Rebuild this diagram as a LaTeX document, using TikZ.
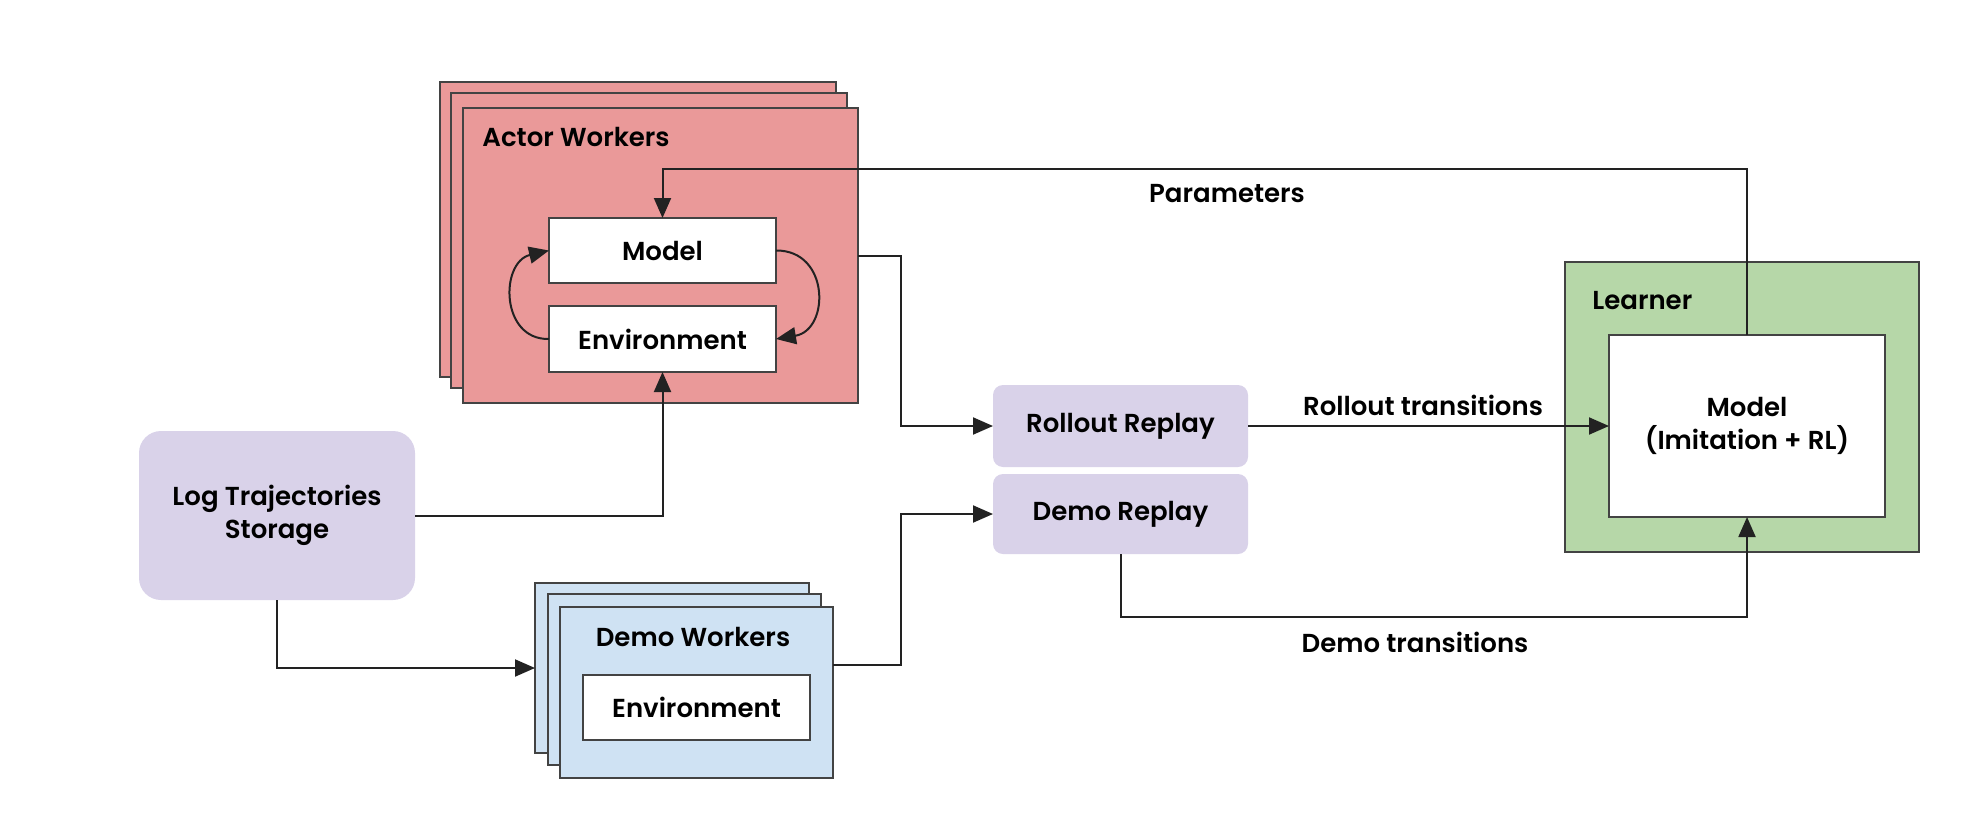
\documentclass[tikz,border=0pt]{standalone}
\usepackage{fontspec}
\setmainfont{Poppins}[UprightFont=* SemiBold, BoldFont=* Bold]
\usetikzlibrary{arrows.meta,calc}
\definecolor{redf}{HTML}{EA9999}
\definecolor{greenf}{HTML}{B6D7A8}
\definecolor{lavf}{HTML}{D9D2E9}
\definecolor{bluef}{HTML}{CFE2F3}
\definecolor{bord}{HTML}{434343}
\definecolor{linec}{HTML}{222222}
\begin{document}
\begin{tikzpicture}[x={(0.5pt,0)},y={(0,-0.5pt)},
  every node/.style={font=\fontsize{13pt}{16.2pt}\selectfont, text=black},
  card/.style={draw=bord, line width=1.1pt, inner sep=0pt, outer sep=0pt},
  whitebox/.style={card, fill=white},
  soft/.style={fill=lavf, draw=none, inner sep=0pt, outer sep=0pt, align=center},
  conn/.style={draw=linec, line width=1pt, -{Triangle[length=10pt,width=8.5pt]}},
  lbl/.style={inner sep=0pt}
]
\useasboundingbox (0,0) rectangle (1974,830);
% Actor workers stack
\node[card, fill=redf, minimum width=198pt, minimum height=147.5pt] (actb1) at (638,229.5) {};
\node[card, fill=redf, minimum width=198pt, minimum height=147.5pt] (actb2) at (649,240.5) {};
\node[card, fill=redf, minimum width=197.5pt, minimum height=147.5pt] (actf) at (660.5,255.5) {};
\node[lbl, anchor=west] (acttitle) at (482,137) {Actor Workers};
\node[whitebox, minimum width=113.5pt, minimum height=32.5pt] (modela) at (662.5,250.5) {Model};
\node[whitebox, minimum width=113.5pt, minimum height=33pt] (enva) at (662.5,339) {Environment};
% Log storage
\node[soft, rounded corners=11pt, minimum width=138pt, minimum height=84.5pt] (log) at (277,515.5) {Log Trajectories\\Storage};
% Demo workers stack
\node[card, fill=bluef, minimum width=137pt, minimum height=85pt] (demob1) at (672,668) {};
\node[card, fill=bluef, minimum width=136.5pt, minimum height=85.5pt] (demob2) at (684.5,679.5) {};
\node[card, fill=bluef, minimum width=136.5pt, minimum height=85.5pt] (demof) at (696.5,692.5) {};
\node[lbl] (demotitle) at (693,637) {Demo Workers};
\node[whitebox, minimum width=113.5pt, minimum height=32.5pt] (envd) at (696.5,707.5) {Environment};
% Replays
\node[soft, rounded corners=5pt, minimum width=127.5pt, minimum height=41pt] (rollout) at (1120.5,426) {Rollout Replay};
\node[soft, rounded corners=5pt, minimum width=127.5pt, minimum height=40pt] (demorep) at (1120.5,514) {Demo Replay};
% Learner
\node[card, fill=greenf, minimum width=177pt, minimum height=145pt] (learner) at (1742,407) {};
\node[lbl, anchor=west] (learntitle) at (1592,301) {Learner};
\node[whitebox, minimum width=138pt, minimum height=91pt, align=center] (modell) at (1747,426) {Model\\(Imitation + RL)};
% helper coordinates
\coordinate (ptop) at (1200,169);
\coordinate (ar) at (901,340);
\coordinate (ar2) at (901,590);
\coordinate (dt) at (1400,617);
% connectors
\draw[conn] (modell.north) |- (ptop) -| (modela.north);
\draw[conn] (actf.east) -| (ar) |- (rollout.west);
\draw[conn] (log.east) -| (enva.south);
\draw[conn] (log.south) |- (demob1.west);
\draw[conn] ($(demof.north east)!0.34!(demof.south east)$) -| (ar2) |- (demorep.west);
\draw[conn] (rollout.east) -- (modell.west);
\draw[conn] (demorep.south) |- (dt) -| (modell.south);
\draw[conn] (enva.west) .. controls (500,340) and (500,262) .. (modela.west);
\draw[conn] (modela.east) .. controls (830,250) and (830,330) .. (enva.east);
% labels
\node[lbl] (plabel) at (1227,194) {Parameters};
\node[lbl] (rlabel) at (1423,405) {Rollout transitions};
\node[lbl] (dlabel) at (1415,642) {Demo transitions};
\end{tikzpicture}
\end{document}
